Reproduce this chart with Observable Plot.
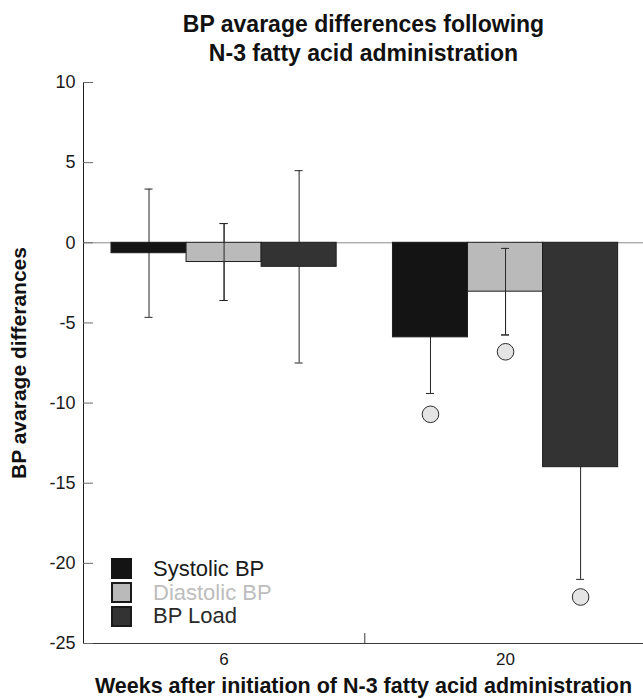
<!DOCTYPE html>
<html>
<head>
<meta charset="utf-8">
<script src="https://cdn.jsdelivr.net/npm/d3@7"></script>
<script src="https://cdn.jsdelivr.net/npm/@observablehq/plot@0.6"></script>
<style>
  html, body { margin: 0; padding: 0; background: #fff; }
  #wrap { position: relative; width: 643px; height: 699px; font-family: "Liberation Sans", Arial, sans-serif; }
  #legend { position: absolute; left: 111px; top: 557px; }
  .row { display: flex; align-items: center; height: 23.65px; }
  .sw { width: 21px; height: 21px; box-sizing: border-box; }
  .lab { margin-left: 21px; font-size: 22px; line-height: 23.65px; white-space: nowrap; }
</style>
</head>
<body>
<div id="wrap"></div>
<script>
// ---- data ----
const weeks = ["6", "20"];
const series = ["Systolic BP", "Diastolic BP", "BP Load"];
const meansWeek6 = [-0.65, -1.2, -1.5];
const meansWeek20 = [-5.9, -3.05, -14.0];
const errorsWeek6 = [4.0, 2.4, 6.0];
const errorsWeek20 = [3.5, 2.7, 7.0];
const outliersWeek20 = [-10.7, -6.8, -22.1];
const yTicks = [10, 5, 0, -5, -10, -15, -20, -25];
const titleLines = ["BP avarage differences following", "N-3 fatty acid administration"];
const yLabel = "BP avarage differances";
const xLabel = "Weeks after initiation of N-3 fatty acid administration";

// ---- styles ----
const fills = ["#141414", "#b9bab9", "#333333"];
const swatchBorders = ["none", "2px solid #1a1a1a", "2px solid #1a1a1a"];
const legendTextColors = ["#1a1a1a", "#bdbdbd", "#2a2a2a"];
const lightSeries = "Diastolic BP";
const GROUP_STEP = 3.75;
const X_DOMAIN = [-0.373, 7.088];

const rows = [];
weeks.forEach((w, g) => {
  const means = g === 0 ? meansWeek6 : meansWeek20;
  const errs = g === 0 ? errorsWeek6 : errorsWeek20;
  series.forEach((s, i) => rows.push({
    week: w, series: s, g, i,
    mean: means[i], err: errs[i],
    outlier: g === 1 ? outliersWeek20[i] : null
  }));
});
const left = d => d.g * GROUP_STEP + d.i;
const mid = d => left(d) + 0.5;

function errorMarks(data) {
  return [
    Plot.ruleX(data, {x: mid, y1: d => d.mean - d.err, y2: d => d.mean + d.err, stroke: "#262626"}),
    Plot.ruleY(data, {x1: mid, x2: mid, y: d => d.mean - d.err, insetLeft: -4, insetRight: -4, stroke: "#262626"}),
    Plot.ruleY(data, {x1: mid, x2: mid, y: d => d.mean + d.err, insetLeft: -4, insetRight: -4, stroke: "#262626"})
  ];
}

const chart = Plot.plot({
  width: 643,
  height: 699,
  marginLeft: 83,
  marginRight: 0,
  marginTop: 82,
  marginBottom: 56,
  x: {domain: X_DOMAIN, axis: null},
  y: {domain: [-25, 10], axis: null},
  color: {domain: series, range: fills},
  style: {fontFamily: "'Liberation Sans', Arial, sans-serif", background: "white", color: "#111"},
  marks: [
    Plot.ruleY([0], {stroke: "#8c8c8c"}),
    ...errorMarks(rows),
    Plot.rectY(rows, {x1: left, x2: d => left(d) + 1, y1: () => 0, y2: "mean", fill: "series", stroke: "#1e1e1e", strokeWidth: 1}),
    ...errorMarks(rows.filter(d => d.series === lightSeries)),
    Plot.dot(rows.filter(d => d.outlier != null), {x: mid, y: "outlier", r: 8.3, fill: "#e4e4e4", stroke: "#2a2a2a", strokeWidth: 1}),
    Plot.ruleX([X_DOMAIN[0]], {stroke: "#1e1e1e"}),
    Plot.ruleY([-25], {stroke: "#3a3a3a"}),
    Plot.tickY(yTicks, {y: d => d, insetRight: 550, stroke: "#6a6a6a"}),
    Plot.text(yTicks, {y: d => d, text: d => String(d), frameAnchor: "left", textAnchor: "end", lineAnchor: "middle", dx: -8, fontSize: 18, fill: "#1a1a1a"}),
    Plot.tickX([GROUP_STEP - 0.375], {x: d => d, insetTop: 551, stroke: "#3a3a3a"}),
    Plot.text(weeks, {x: (d, i) => i * GROUP_STEP + 1.5, text: d => d, frameAnchor: "bottom", lineAnchor: "middle", dy: 16, fontSize: 17, fill: "#1a1a1a"}),
    Plot.text([titleLines[0]], {frameAnchor: "top", lineAnchor: "bottom", textAnchor: "middle", dy: -51, fontSize: 23, fontWeight: "bold", fill: "#111"}),
    Plot.text([titleLines[1]], {frameAnchor: "top", lineAnchor: "bottom", textAnchor: "middle", dy: -22, fontSize: 23, fontWeight: "bold", fill: "#111"}),
    Plot.text([yLabel], {frameAnchor: "left", rotate: -90, textAnchor: "middle", lineAnchor: "middle", dx: -64, fontSize: 21, fontWeight: "bold", fill: "#111"}),
    Plot.text([xLabel], {frameAnchor: "bottom", lineAnchor: "bottom", textAnchor: "middle", dy: 49, fontSize: 21.5, fontWeight: "bold", fill: "#111"})
  ]
});

const wrap = document.getElementById("wrap");
wrap.appendChild(chart);

const legend = document.createElement("div");
legend.id = "legend";
series.forEach((s, i) => {
  const row = document.createElement("div");
  row.className = "row";
  const sw = document.createElement("div");
  sw.className = "sw";
  sw.style.background = fills[i];
  sw.style.border = swatchBorders[i];
  const lab = document.createElement("span");
  lab.className = "lab";
  lab.style.color = legendTextColors[i];
  lab.textContent = s;
  row.appendChild(sw);
  row.appendChild(lab);
  legend.appendChild(row);
});
wrap.appendChild(legend);
</script>
</body>
</html>
